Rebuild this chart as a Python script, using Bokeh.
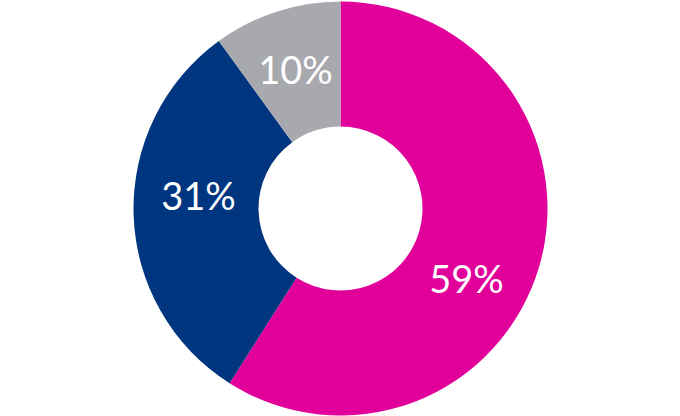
from bokeh.plotting import figure
from bokeh.models import ColumnDataSource
from bokeh.core.properties import value
from bokeh.embed import file_html
from bokeh.resources import INLINE
import math

# data
labels = ["59%", "31%", "10%"]
shares = [59, 31, 10]
colors = ["#E2009B", "#00357F", "#A8A9AE"]

W, H = 680, 416
cx, cy = 340, 208
r_out, r_in = 207, 82

# angles: start at 12 o'clock, go clockwise
starts, ends = [], []
acc = 0.0
for s in shares:
    a0 = math.pi / 2 - 2 * math.pi * acc / 100
    acc += s
    a1 = math.pi / 2 - 2 * math.pi * acc / 100
    starts.append(a0)
    ends.append(a1)

# label placement offsets (px from centre)
label_dx = [126, -142, -45]
label_dy = [-69, 14, 140]
lx = [cx + d for d in label_dx]
ly = [cy + d for d in label_dy]

src = ColumnDataSource(dict(start=starts, end=ends, color=colors,
                            label=labels, lx=lx, ly=ly))

p = figure(width=W, height=H, x_range=(0, W), y_range=(0, H),
           output_backend="svg", toolbar_location=None, min_border=0,
           background_fill_color="white", border_fill_color="white")
p.axis.visible = False
p.grid.visible = False
p.outline_line_color = None

p.annular_wedge(x=cx, y=cy, inner_radius=r_in, outer_radius=r_out,
                start_angle="start", end_angle="end", direction="clock",
                fill_color="color", line_color=None, source=src)

p.text(x="lx", y="ly", text="label", source=src, text_color="white",
       text_font=value("Lato"), text_font_size="38px",
       text_align="center", text_baseline="middle")

html = file_html(p, INLINE)
html = html.replace("<head>", "<head><style>html,body{margin:0;padding:0;overflow:hidden}</style>", 1)
open("out.html", "w").write(html)
